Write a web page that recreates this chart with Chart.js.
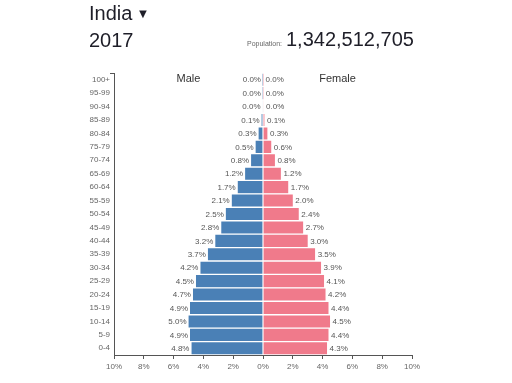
<!DOCTYPE html>
<html>
<head>
<meta charset="utf-8">
<script src="https://cdn.jsdelivr.net/npm/chart.js@4.4.0/dist/chart.umd.min.js"></script>
<style>
  html, body { margin: 0; padding: 0; background: #fff; }
  body { width: 512px; height: 383px; position: relative; overflow: hidden; font-family: "Liberation Sans", Arial, sans-serif; }
  #c { position: absolute; left: 0; top: 0; }
  .t { position: absolute; color: #1e1e28; white-space: nowrap; }
  #country { left: 89px; top: 2px; font-size: 20px; }
  #country .arr { font-size: 13px; position: relative; top: -2px; margin-left: 4px; }
  #year { left: 89px; top: 29px; font-size: 20px; }
  #poplab { left: 247px; top: 40px; font-size: 7px; color: #666; }
  #pop { left: 286px; top: 28px; font-size: 20px; }
</style>
</head>
<body>
<canvas id="c" width="512" height="383"></canvas>
<div class="t" id="country">India<span class="arr">▼</span></div>
<div class="t" id="year">2017</div>
<div class="t" id="poplab">Population:</div>
<div class="t" id="pop">1,342,512,705</div>
<script>
const ageGroups = ["100+","95-99","90-94","85-89","80-84","75-79","70-74","65-69","60-64","55-59","50-54","45-49","40-44","35-39","30-34","25-29","20-24","15-19","10-14","5-9","0-4"];
const malePct   = [0.003,0.01,0.03,0.1,0.3,0.5,0.8,1.2,1.7,2.1,2.5,2.8,3.2,3.7,4.2,4.5,4.7,4.9,5.0,4.9,4.8];
const femalePct = [0.005,0.01,0.04,0.1,0.3,0.56,0.8,1.2,1.7,2.0,2.4,2.7,3.0,3.5,3.9,4.1,4.2,4.4,4.5,4.4,4.3];
const xTicks = [-10,-8,-6,-4,-2,0,2,4,6,8,10];
const seriesNames = ["Male","Female"];

const FONT = '"Liberation Sans", Arial, sans-serif';

const labelPlugin = {
  id: 'vals',
  afterDatasetsDraw(chart) {
    const ctx = chart.ctx;
    ctx.save();
    ctx.font = '8px ' + FONT;
    ctx.fillStyle = '#555';
    ctx.textBaseline = 'middle';
    chart.data.datasets.forEach((ds, di) => {
      const meta = chart.getDatasetMeta(di);
      meta.data.forEach((el, i) => {
        const v = Math.abs(ds.data[i]).toFixed(1) + '%';
        if (di === 0) { ctx.textAlign = 'right'; ctx.fillText(v, el.x - 2, el.y + 0.5); }
        else { ctx.textAlign = 'left'; ctx.fillText(v, el.x + 2.5, el.y + 0.5); }
      });
    });
    const xs = chart.scales.x;
    ctx.font = '11px ' + FONT;
    ctx.fillStyle = '#333';
    ctx.textAlign = 'center';
    ctx.fillText(seriesNames[0], xs.getPixelForValue(-5), 79);
    ctx.fillText(seriesNames[1], xs.getPixelForValue(5), 79);
    const ca = chart.chartArea;
    ctx.strokeStyle = '#555';
    ctx.lineWidth = 1;
    ctx.beginPath();
    ctx.moveTo(ca.left - 4, Math.round(ca.top) + 0.5);
    ctx.lineTo(ca.left, Math.round(ca.top) + 0.5);
    ctx.stroke();
    ctx.restore();
  }
};

new Chart(document.getElementById('c'), {
  type: 'bar',
  data: {
    labels: ageGroups,
    datasets: [
      { label: seriesNames[0], data: malePct.map(v => -v), backgroundColor: '#4a80b6',
        borderColor: '#ffffff', borderWidth: {top: 1, bottom: 1, left: 0, right: 0}, borderSkipped: false },
      { label: seriesNames[1], data: femalePct, backgroundColor: '#f07a8b',
        borderColor: '#ffffff', borderWidth: {top: 1, bottom: 1, left: 0, right: 0}, borderSkipped: false }
    ]
  },
  options: {
    responsive: false,
    animation: false,
    indexAxis: 'y',
    layout: { padding: { left: 0, right: 100, top: 73, bottom: 0 } },
    plugins: { legend: { display: false }, tooltip: { enabled: false } },
    datasets: { bar: { categoryPercentage: 1, barPercentage: 1 } },
    scales: {
      x: {
        stacked: true, min: -10, max: 10,
        afterBuildTicks: s => { s.ticks = xTicks.map(v => ({ value: v })); },
        ticks: { callback: v => Math.abs(v) + '%', font: { size: 8, family: FONT }, color: '#666', padding: 3, maxRotation: 0 },
        grid: { drawOnChartArea: false, drawTicks: true, tickLength: 4, color: '#555' },
        border: { display: true, color: '#555' },
        afterFit: s => { s.height = 28; }
      },
      y: {
        stacked: true,
        ticks: { font: { size: 8, family: FONT }, color: '#666', padding: 4, autoSkip: false },
        grid: { display: false, drawTicks: false },
        border: { display: true, color: '#555' },
        afterFit: s => { s.width = 114; }
      }
    }
  },
  plugins: [labelPlugin]
});
</script>
</body>
</html>
